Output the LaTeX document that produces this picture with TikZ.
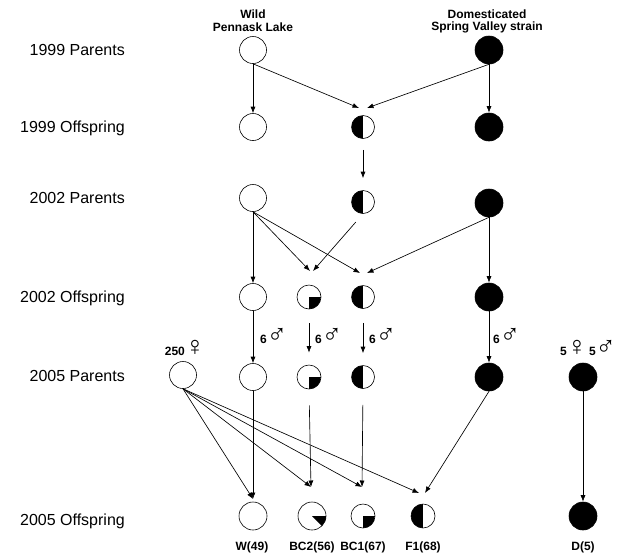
\documentclass[tikz,border=0pt]{standalone}
\usepackage{fontspec}
\setmainfont{Liberation Sans}
\usetikzlibrary{arrows.meta,calc}
\newcommand\femsym{{\fontsize{27}{27}\selectfont\mdseries ♀}}
\newcommand\malesym{{\fontsize{27}{27}\selectfont\mdseries ♂}}
\begin{document}
\begin{tikzpicture}[x=1pt,y=-1pt,
  base/.style={circle,draw=black,line width=0.6pt,inner sep=0pt,minimum size=#1},
  base/.default=27pt,
  wild/.style={base=#1},
  wild/.default=27pt,
  dom/.style={base=#1,fill=black},
  dom/.default=28pt,
  half/.style={base=#1,path picture={\fill[black] (path picture bounding box.north) rectangle (path picture bounding box.south west);}},
  half/.default=23pt,
  quart/.style={base=#1,path picture={\fill[black] (path picture bounding box.center) rectangle (path picture bounding box.south east);}},
  quart/.default=24pt,
  eighth/.style={base=#1,path picture={\fill[black] (path picture bounding box.center) -- (path picture bounding box.east) -- (path picture bounding box.south east) -- cycle;}},
  eighth/.default=28pt,
  conn/.style={-{Latex[length=6.5pt,width=5pt]},line width=0.65pt},
  rowlab/.style={anchor=east,inner sep=0pt,font=\fontsize{16}{19}\selectfont},
  blab/.style={inner sep=0pt,font=\bfseries\fontsize{12}{14}\selectfont},
  mlab/.style={anchor=base west,inner sep=0pt,font=\bfseries\fontsize{12}{14}\selectfont},
  slab/.style={anchor=base,inner sep=0pt,font=\bfseries\fontsize{12}{14}\selectfont}
]
\useasboundingbox (0,0) rectangle (620,555);

% row labels
\node[rowlab] (rl1) at (125,50) {1999 Parents};
\node[rowlab] (rl2) at (125,128) {1999 Offspring};
\node[rowlab] (rl3) at (125,198) {2002 Parents};
\node[rowlab] (rl4) at (125,298) {2002 Offspring};
\node[rowlab] (rl5) at (125,376) {2005 Parents};
\node[rowlab] (rl6) at (125,521) {2005 Offspring};

% headers
\node[blab] (hw1) at (253,14) {Wild};
\node[blab] (hw2) at (253,27) {Pennask Lake};
\node[blab] (hd1) at (487,14) {Domesticated};
\node[blab] (hd2) at (487,27) {Spring Valley strain};

% row 1
\node[wild] (Wp1) at (253,50) {};
\node[dom] (Dp1) at (489,50) {};
% row 2
\node[wild] (Wo1) at (253,127) {};
\node[half] (Fo1) at (363,127) {};
\node[dom] (Do1) at (489,127) {};
% row 3
\node[wild] (Wp2) at (253,198) {};
\node[half] (Fp2) at (363,202) {};
\node[dom] (Dp2) at (489,203) {};
% row 4
\node[wild] (Wo2) at (253,297) {};
\node[quart] (Bo2) at (309,297) {};
\node[half] (Fo2) at (363,297) {};
\node[dom] (Do2) at (489,297) {};
% row 5
\node[wild] (Fem) at (183,375) {};
\node[wild] (Wp5) at (253,377) {};
\node[quart] (Bp5) at (309,377) {};
\node[half] (Fp5) at (363,377) {};
\node[dom] (Dp5) at (489,377) {};
\node[dom] (Dd5) at (583,377) {};
% row 6
\node[wild=28pt] (Wo5) at (253,516) {};
\node[eighth] (B2o5) at (312,516) {};
\node[quart] (B1o5) at (363,516) {};
\node[half=24pt] (F1o5) at (423,516) {};
\node[dom] (Do5) at (583,516) {};

% bottom labels
\node[blab] (lw) at (252,547) {W(49)};
\node[blab] (lb2) at (312,547) {BC2(56)};
\node[blab] (lb1) at (363,547) {BC1(67)};
\node[blab] (lf1) at (423,547) {F1(68)};
\node[blab] (ld) at (583,547) {D(5)};

% numbers
\node[mlab] (m1) at (260,343) {6\malesym};
\node[mlab] (m2) at (315,343) {6\malesym};
\node[mlab] (m3) at (369,343) {6\malesym};
\node[mlab] (m4) at (493,343) {6\malesym};
\node[slab] (nf) at (185,355) {250\femsym};
\node[slab] (nd) at (588,355) {5\femsym\,5\malesym};

% convergence points
\coordinate (a1w) at (359,108);
\coordinate (a1d) at (367,108);
\coordinate (b2w) at (310,271);
\coordinate (b2f) at (313,271);
\coordinate (f2w) at (360,273);
\coordinate (f2d) at (367,273);
\coordinate (e1) at (253,499);
\coordinate (e2) at (311,487);
\coordinate (e3) at (362,487);
\coordinate (e4) at (419,493);
\coordinate (e4d) at (425,493);

% 1999 -> 1999 offspring
\draw[conn] (Wp1) -- (Wo1);
\draw[conn] (Wp1.south) -- (a1w);
\draw[conn] (Dp1.south) -- (a1d);
\draw[conn] (Dp1) -- (Do1);
% 1999 offspring -> 2002 parents
\draw[conn,shorten <=11pt,shorten >=12pt] (Fo1) -- (Fp2);
% 2002 parents -> 2002 offspring
\draw[conn] (Wp2) -- (Wo2);
\draw[conn] (Wp2.south) -- (b2w);
\draw[conn] (Wp2.south) -- (f2w);
\draw[conn,shorten <=11pt] (Fp2.south) -- (b2f);
\draw[conn] (Dp2.south) -- (f2d);
\draw[conn] (Dp2) -- (Do2);
% 2002 offspring -> 2005 parents
\draw[conn] (Wo2) -- (Wp5);
\draw[conn,shorten <=14pt,shorten >=12pt] (Bo2) -- (Bp5);
\draw[conn,shorten <=14pt,shorten >=12pt] (Fo2) -- (Fp5);
\draw[conn] (Do2) -- (Dp5);
% 2005 parents -> 2005 offspring
\draw[conn] (Fem.south) -- (e1);
\draw[conn] (Fem.south) -- (e2);
\draw[conn] (Fem.south) -- (e3);
\draw[conn] (Fem.south) -- (e4);
\draw[conn] (Wp5.south) -- (e1);
\draw[conn,shorten <=16pt] (Bp5.south) -- (e2);
\draw[conn,shorten <=16pt] (Fp5.south) -- (e3);
\draw[conn] (Dp5.south) -- (e4d);
\draw[conn] (Dd5) -- (Do5);
\end{tikzpicture}
\end{document}
